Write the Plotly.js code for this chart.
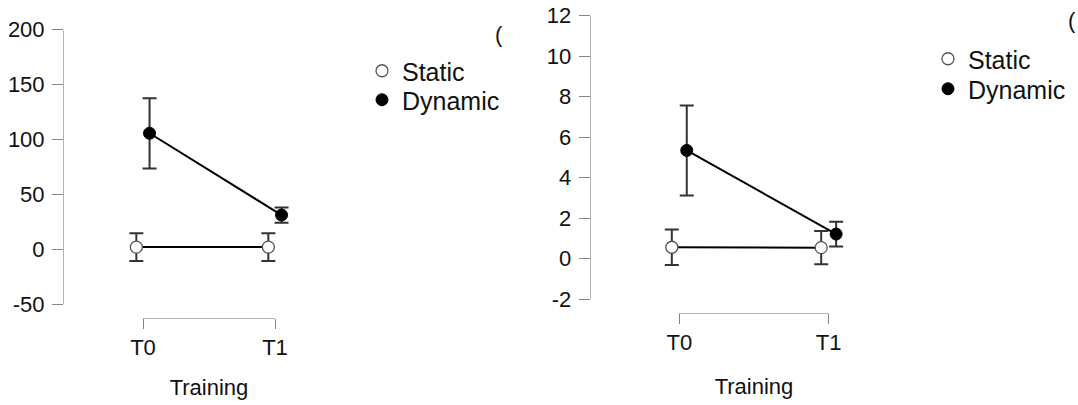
<!DOCTYPE html>
<html>
<head>
<meta charset="utf-8">
<script src="https://cdn.plot.ly/plotly-3.0.1.min.js"></script>
<style>html,body{margin:0;padding:0;background:#fff;}#chart{width:1078px;height:405px;}</style>
</head>
<body>
<div id="chart"></div>
<script>
// ---- data ----
const categories = ['T0', 'T1'];
const seriesNames = ['Static', 'Dynamic'];

const leftStatic = [1.8, 1.8];
const leftStaticErr = [12.6, 12.6];
const leftDynamic = [105.5, 31];
const leftDynamicErr = [32, 7];

const rightStatic = [0.57, 0.55];
const rightStaticErr = [0.88, 0.82];
const rightDynamic = [5.35, 1.22];
const rightDynamicErr = [2.22, 0.61];

const leftTicks = [-50, 0, 50, 100, 150, 200];
const rightTicks = [-2, 0, 2, 4, 6, 8, 10, 12];
const xTitle = 'Training';

// ---- styling ----
const FONT = 'Liberation Sans, Arial, sans-serif';
const dodge = 0.05;
const idx = categories.map((c, i) => i);
const xs = (off) => idx.map(i => i + off);

function panelTraces(staticY, staticE, dynY, dynE, xa, ya, legS, legD) {
  const sx = xs(-dodge), dx = xs(dodge);
  return [
    {x: sx, y: staticY, mode: 'lines', line: {color: '#000', width: 2}, xaxis: xa, yaxis: ya, showlegend: false, hoverinfo: 'skip'},
    {x: dx, y: dynY, mode: 'lines', line: {color: '#000', width: 2}, xaxis: xa, yaxis: ya, showlegend: false, hoverinfo: 'skip'},
    {x: sx, y: staticY, name: seriesNames[0], mode: 'markers', xaxis: xa, yaxis: ya, legend: legS,
     marker: {size: 12, color: '#fff', line: {color: '#555', width: 1.3}},
     error_y: {type: 'data', array: staticE, visible: true, color: '#333', thickness: 2, width: 7}},
    {x: dx, y: dynY, name: seriesNames[1], mode: 'markers', xaxis: xa, yaxis: ya, legend: legD,
     marker: {size: 12, color: '#000', line: {color: '#000', width: 1}},
     error_y: {type: 'data', array: dynE, visible: true, color: '#333', thickness: 2, width: 7}}
  ];
}

// invisible carrier traces so that the bracket (category) axes get drawn
function bracketCarrier(xa, ya) {
  return {x: idx, y: idx.map(() => 0), xaxis: xa, yaxis: ya, mode: 'markers',
          marker: {opacity: 0}, showlegend: false, hoverinfo: 'skip'};
}

const traces = [].concat(
  panelTraces(leftStatic, leftStaticErr, leftDynamic, leftDynamicErr, 'x', 'y', 'legend', 'legend2'),
  panelTraces(rightStatic, rightStaticErr, rightDynamic, rightDynamicErr, 'x2', 'y2', 'legend3', 'legend4'),
  [bracketCarrier('x3', 'y3'), bracketCarrier('x4', 'y4')]
);

const W = 1078, H = 405;
const px = v => v / W;
const py = v => 1 - v / H;

const yStyle = {
  showline: true, linecolor: '#b4b4b4', linewidth: 1,
  ticks: 'outside', ticklen: 11, tickcolor: '#858585', tickwidth: 1,
  showgrid: false, zeroline: false, fixedrange: true,
  tickfont: {family: FONT, size: 22, color: '#111'}, ticklabelstandoff: 3
};
function bracketStyle(standoff) {
  return {
    range: [0, 1], tickmode: 'array', tickvals: idx, ticktext: categories,
    showline: true, linecolor: '#b4b4b4', linewidth: 1,
    ticks: 'outside', ticklen: 10, tickcolor: '#858585', tickwidth: 1,
    showgrid: false, zeroline: false, fixedrange: true, side: 'bottom',
    tickfont: {family: FONT, size: 22, color: '#111'},
    title: {text: xTitle, font: {family: FONT, size: 22, color: '#111'}, standoff: standoff}
  };
}
const hidY = {visible: false, fixedrange: true, range: [-1, 1]};
const legStyle = {
  font: {family: FONT, size: 25, color: '#111'}, bgcolor: 'rgba(0,0,0,0)',
  xanchor: 'left', yanchor: 'middle', traceorder: 'normal', itemclick: false
};

const layout = {
  width: W, height: H,
  margin: {l: 0, r: 0, t: 0, b: 0},
  paper_bgcolor: '#fff', plot_bgcolor: 'rgba(0,0,0,0)',
  showlegend: true,
  font: {family: FONT, color: '#111'},
  xaxis: {domain: [px(64), px(540)], range: [-0.598, 3.008], visible: false, fixedrange: true},
  yaxis: Object.assign({domain: [py(304), py(29.5)], range: [-50, 200], tickmode: 'array', tickvals: leftTicks, ticktext: leftTicks.map(String), anchor: 'x'}, yStyle),
  xaxis2: {domain: [px(590.7), 1], range: [-0.593, 2.669], visible: false, fixedrange: true, anchor: 'y2'},
  yaxis2: Object.assign({domain: [py(299.3), py(15.7)], range: [-2, 12], tickmode: 'array', tickvals: rightTicks, ticktext: rightTicks.map(String), anchor: 'x2'}, yStyle),
  xaxis3: Object.assign({domain: [px(143), px(275)], anchor: 'y3'}, bracketStyle(20)),
  yaxis3: Object.assign({domain: [py(318), py(317)], anchor: 'x3'}, hidY),
  xaxis4: Object.assign({domain: [px(679.3), px(828.7)], anchor: 'y4'}, bracketStyle(24)),
  yaxis4: Object.assign({domain: [py(312.7), py(311.7)], anchor: 'x4'}, hidY),
  legend: Object.assign({x: px(362), y: py(71)}, legStyle),
  legend2: Object.assign({x: px(362), y: py(100)}, legStyle),
  legend3: Object.assign({x: px(928), y: py(59)}, legStyle),
  legend4: Object.assign({x: px(928), y: py(89)}, legStyle),
  annotations: [
    {text: '(', xref: 'paper', yref: 'paper', x: px(493), y: py(35), xanchor: 'left', yanchor: 'middle', showarrow: false, font: {family: FONT, size: 22, color: '#111'}},
    {text: '(', xref: 'paper', yref: 'paper', x: px(1066), y: py(21), xanchor: 'left', yanchor: 'middle', showarrow: false, font: {family: FONT, size: 22, color: '#111'}}
  ]
};

Plotly.newPlot('chart', traces, layout, {displayModeBar: false, staticPlot: true});
</script>
</body>
</html>
